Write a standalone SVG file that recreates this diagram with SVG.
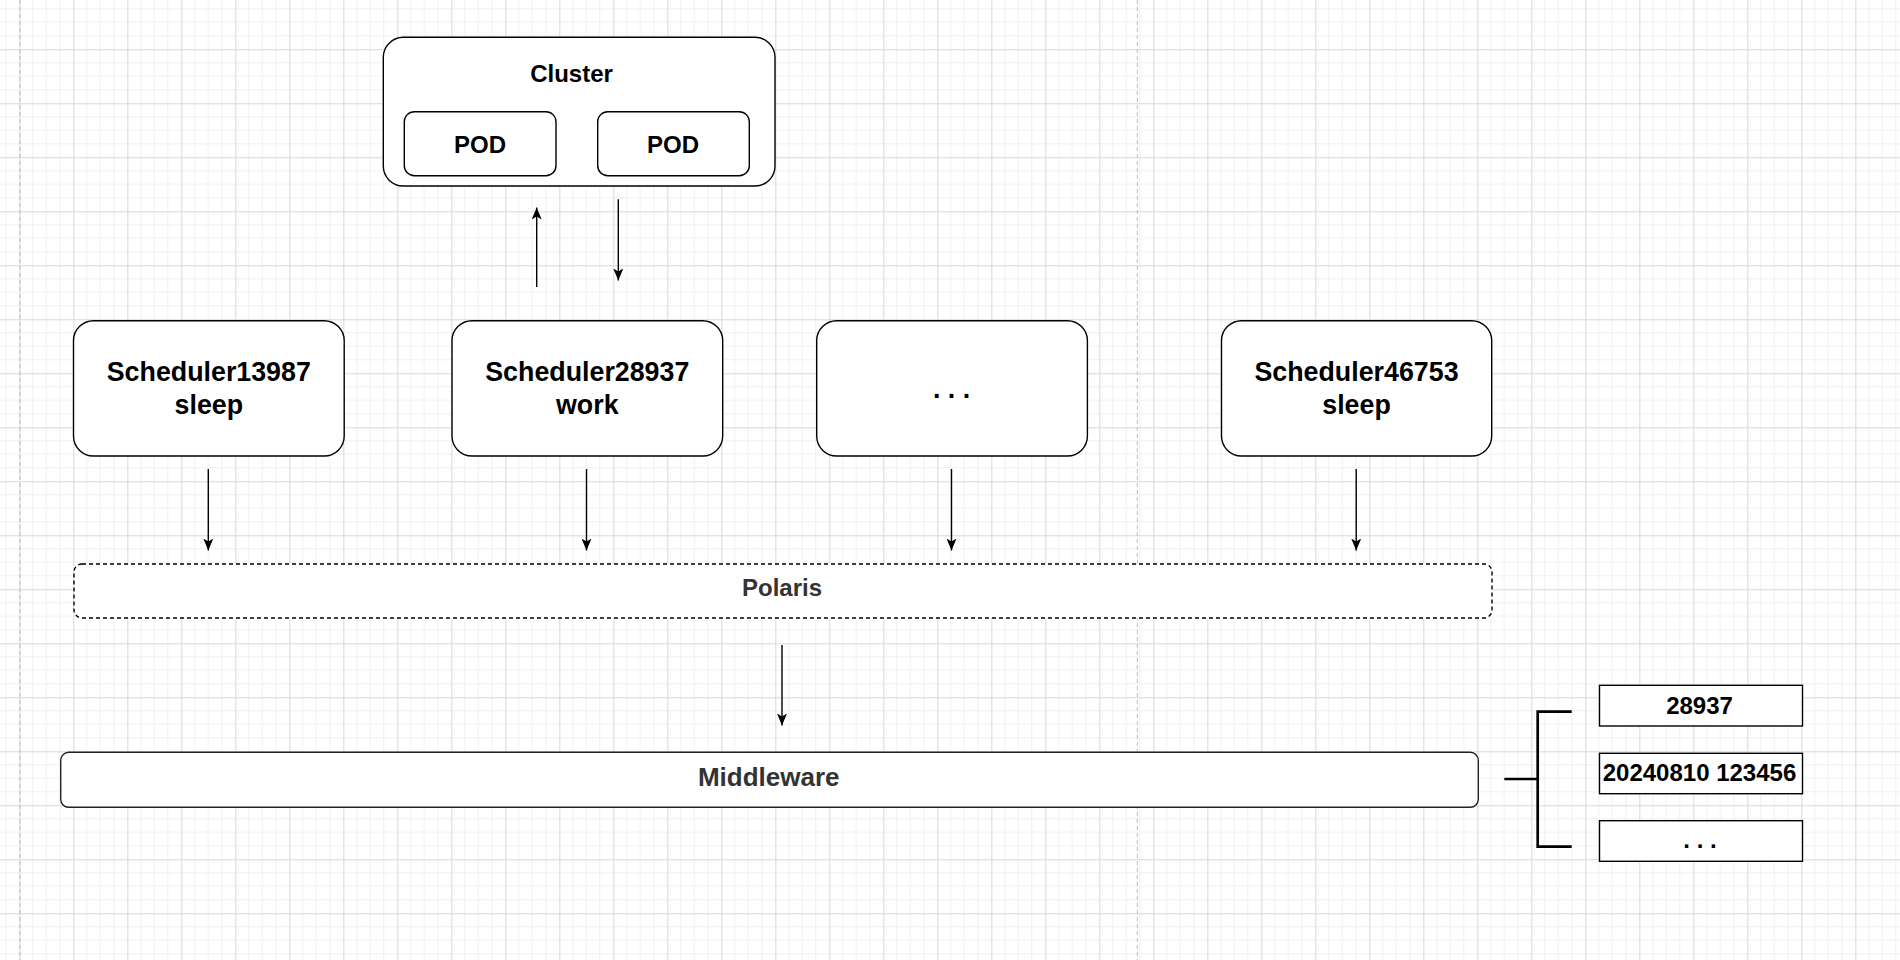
<svg xmlns="http://www.w3.org/2000/svg" width="1900" height="960" viewBox="0 0 1900 960">
  <defs>
    <pattern id="grid" x="19.3" y="49.3" width="54" height="54" patternUnits="userSpaceOnUse">
      <path d="M13.5,0 V54 M27,0 V54 M40.5,0 V54 M0,13.5 H54 M0,27 H54 M0,40.5 H54" stroke="#f0f0f0" stroke-width="1" fill="none"/>
      <path d="M0.5,0 V54 M0,0.5 H54" stroke="#d8d8d8" stroke-width="1" fill="none"/>
    </pattern>
    <marker id="arrow" markerUnits="userSpaceOnUse" markerWidth="12" markerHeight="10" viewBox="0 0 12 10" refX="12" refY="5" orient="auto">
      <path d="M0,0 L12,5 L0,10 L3,5 Z" fill="#000"/>
    </marker>
    <style>
      .box { fill: #fff; stroke: #000; stroke-width: 1.4; }
      .t { font-family: "Liberation Sans", Arial, sans-serif; font-weight: bold; text-anchor: middle; fill: #000; }
      .t24 { font-size: 24px; }
      .t27 { font-size: 26.8px; }
      .gray { fill: #333; }
      .conn { stroke: #000; stroke-width: 1.4; fill: none; }
      .arr { marker-end: url(#arrow); }
      .page { stroke: #bdbdbd; stroke-width: 1; stroke-dasharray: 4 3; }
      .brk { stroke: #000; stroke-width: 2.7; fill: none; }
    </style>
  </defs>

  <rect x="0" y="0" width="1900" height="960" fill="#fff"/>
  <rect x="0" y="0" width="1900" height="960" fill="url(#grid)"/>
  <line class="page" x1="20" y1="0" x2="20" y2="960"/>
  <line class="page" x1="1137.3" y1="0" x2="1137.3" y2="960"/>

  <g id="cluster">
    <rect class="box" x="383.3" y="37.3" width="391.7" height="148.7" rx="20" ry="20"/>
    <text class="t t24" x="571.5" y="81.7">Cluster</text>
  </g>
  <g id="pod1">
    <rect class="box" x="404.3" y="111.7" width="151.7" height="64" rx="10" ry="10"/>
    <text class="t t24" x="480" y="152.7">POD</text>
  </g>
  <g id="pod2">
    <rect class="box" x="597.7" y="111.7" width="151.6" height="64" rx="10" ry="10"/>
    <text class="t t24" x="673" y="152.7">POD</text>
  </g>

  <g id="scheduler13987">
    <rect class="box" x="73.5" y="320.7" width="270.7" height="135.3" rx="20" ry="20"/>
    <text class="t t27" x="208.8" y="381">Scheduler13987</text>
    <text class="t t27" x="208.8" y="414">sleep</text>
  </g>
  <g id="scheduler28937">
    <rect class="box" x="452" y="320.7" width="270.7" height="135.3" rx="20" ry="20"/>
    <text class="t t27" x="587.3" y="381">Scheduler28937</text>
    <text class="t t27" x="587.3" y="414">work</text>
  </g>
  <g id="scheduler-more">
    <rect class="box" x="816.7" y="320.7" width="270.7" height="135.3" rx="20" ry="20"/>
    <text class="t t27" x="951.5" y="398">. . .</text>
  </g>
  <g id="scheduler46753">
    <rect class="box" x="1221.5" y="320.7" width="270.2" height="135.3" rx="20" ry="20"/>
    <text class="t t27" x="1356.5" y="381">Scheduler46753</text>
    <text class="t t27" x="1356.5" y="414">sleep</text>
  </g>

  <g id="polaris">
    <rect x="74" y="564" width="1418" height="54" rx="8" ry="8" fill="#fff" stroke="#000" stroke-width="1.4" stroke-dasharray="4 3"/>
    <text class="t t24 gray" x="782" y="595.7">Polaris</text>
  </g>

  <g id="middleware">
    <rect x="60.7" y="752.3" width="1417.6" height="55" rx="8" ry="8" fill="#fff" stroke="#222" stroke-width="1.4"/>
    <text class="t gray" style="font-size:26px" x="768.7" y="785.7">Middleware</text>
  </g>

  <g id="item-28937">
    <rect class="box" x="1599.5" y="685.3" width="203" height="40.7"/>
    <text class="t t24" x="1699.5" y="714">28937</text>
  </g>
  <g id="item-20240810">
    <rect class="box" x="1599.5" y="753.3" width="203" height="40.4"/>
    <text class="t t24" x="1699.5" y="781">20240810 123456</text>
  </g>
  <g id="item-more">
    <rect class="box" x="1599.5" y="820.7" width="203" height="40.6"/>
    <text class="t t24" x="1700" y="848">. . .</text>
  </g>

  <g id="connectors">
    <line class="conn arr" x1="536.7" y1="287" x2="536.7" y2="207.5"/>
    <line class="conn arr" x1="618.3" y1="199.3" x2="618.3" y2="280.5"/>
    <line class="conn arr" x1="208.3" y1="469" x2="208.3" y2="550.5"/>
    <line class="conn arr" x1="586.5" y1="469" x2="586.5" y2="550.5"/>
    <line class="conn arr" x1="951.5" y1="469" x2="951.5" y2="550.5"/>
    <line class="conn arr" x1="1356.2" y1="469" x2="1356.2" y2="550.5"/>
    <line class="conn arr" x1="782" y1="645" x2="782" y2="725.5"/>
    <path class="brk" d="M1504.3,779 H1537.7 M1571.7,711.7 H1537.7 V846.7 H1571.7"/>
  </g>
</svg>
